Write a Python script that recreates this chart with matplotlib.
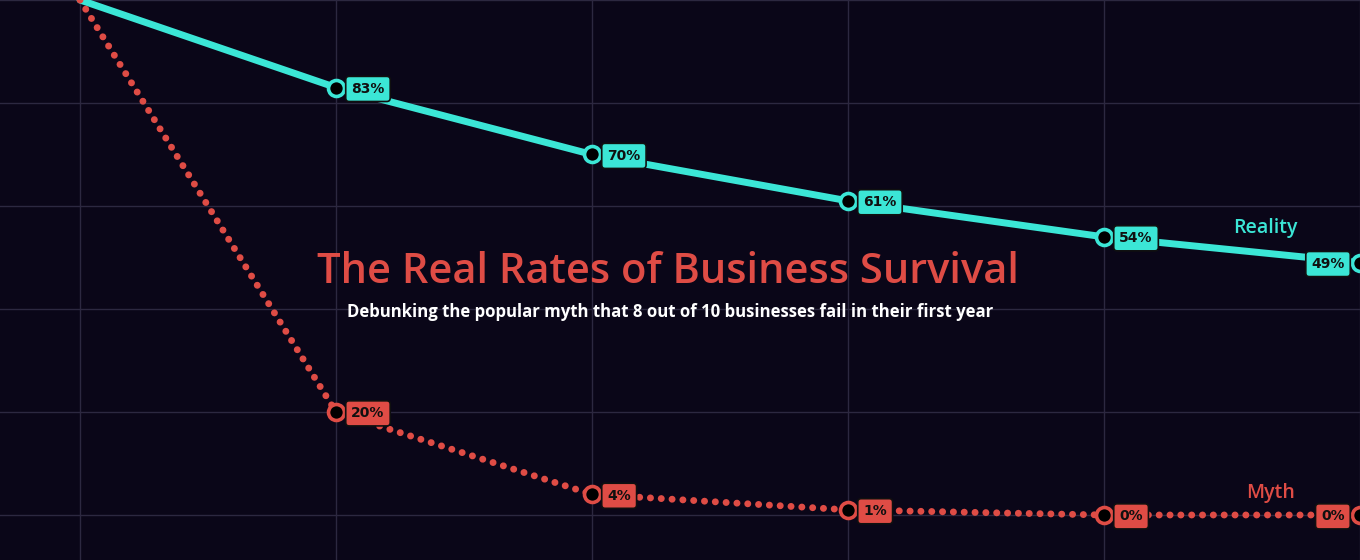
import matplotlib.pyplot as plt

years = [0, 1, 2, 3, 4, 5]
reality = [100, 83, 70, 61, 54, 49]
myth = [100, 20, 4, 1, 0, 0]
title = 'The Real Rates of Business Survival'
subtitle = 'Debunking the popular myth that 8 out of 10 businesses fail in their first year'

bg = '#0a0618'
cyan = '#3be6d6'
red = '#df4c45'
grid_col = '#2c2840'

fig = plt.figure(figsize=(13.6, 5.6), dpi=100, facecolor=bg)
ax = fig.add_axes([0, 0, 1, 1])
ax.set_facecolor(bg)
ax.set_xlim(-0.3125, 5)
ax.set_ylim(-8.74, 100)
for s in ax.spines.values():
    s.set_visible(False)
ax.set_xticks(years)
ax.set_yticks([0, 20, 40, 60, 80, 100])
ax.tick_params(length=0, labelbottom=False, labelleft=False)
ax.grid(True, color=grid_col, linewidth=1)
ax.set_axisbelow(True)

# reality: solid line
ax.plot(years, reality, color=cyan, linewidth=5, solid_capstyle='round', zorder=3)
ax.plot(years[1:], reality[1:], 'o', ms=11.5, mfc='black', mec=cyan, mew=2.6, zorder=5)

# myth: dotted line
ax.plot(years, myth, color=red, linewidth=5, linestyle=(0, (0.01, 1.55)),
        dash_capstyle='round', zorder=3)
ax.plot(years[1:], myth[1:], 'o', ms=11.5, mfc='black', mec=red, mew=2.6, zorder=5)

def label(x, y, text, color, last):
    ax.annotate(text, (x, y), xytext=(-11 if last else 11, -1), textcoords='offset points',
                ha='right' if last else 'left', va='center', fontsize=10, fontweight='bold',
                family='DejaVu Sans', color='#101010', zorder=6,
                bbox=dict(boxstyle='round,pad=0.4,rounding_size=0.25', fc=color, ec='#101010', lw=1.2))

for i in range(1, len(years)):
    last = i == len(years) - 1
    label(years[i], reality[i], f'{reality[i]}%', cyan, last)
    label(years[i], myth[i], f'{myth[i]}%', red, last)

ax.text(4.63, 55.7, 'Reality', color=cyan, fontsize=14, family='Open Sans', fontweight='semibold',
        ha='center', va='center')
ax.text(4.65, 4.3, 'Myth', color=red, fontsize=14, family='Open Sans', fontweight='semibold',
        ha='center', va='center')

ax.text(2.297, 47.2, title, color=red, fontsize=30, family='Open Sans', fontweight='semibold',
        ha='center', va='center', zorder=7)
ax.text(2.307, 39.5, subtitle, color='white', fontsize=12.1, family='Open Sans', fontweight='bold',
        ha='center', va='center', zorder=7)

fig.savefig('out.png', dpi=100, facecolor=bg)
